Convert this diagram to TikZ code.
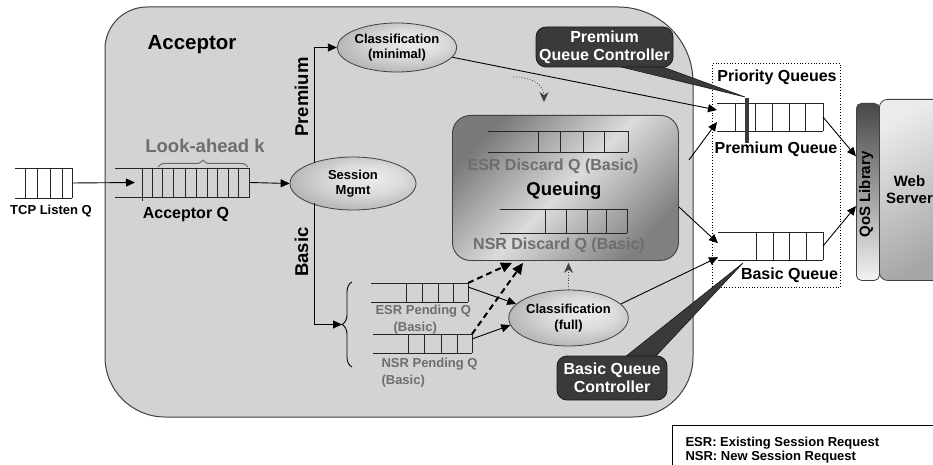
\documentclass[tikz,border=0pt]{standalone}
\usepackage{fontspec}
\setmainfont{Liberation Sans}
\usetikzlibrary{arrows.meta,shapes.geometric,decorations.pathreplacing,calc}

\definecolor{panel}{HTML}{D3D3D3}
\definecolor{edge}{HTML}{404040}
\definecolor{greytext}{HTML}{6E6E6E}
\definecolor{ctrl}{HTML}{3A3A3A}

% light spot slightly up and right, darker rim
\pgfdeclareradialshading{ovalshade}{\pgfpoint{8bp}{6bp}}{color(0bp)=(white!93!black); color(14bp)=(white!86!black); color(50bp)=(black!50)}

% a queue: open on the left, closed on the right, with slot dividers
% #1 name, #2 left x, #3 right x, #4 top y, #5 bottom y, #6 divider x list
\newcommand\drawqueue[6]{%
  \node[qnode, minimum width={#3-#2}, minimum height={#5-#4}, anchor=north west] (#1) at (#2,#4) {};
  \draw[qline] (#2,#4) -- (#3,#4) (#2,#5) -- (#3,#5);
  \foreach \vx in {#6} {\draw[qline] (\vx,#4) -- (\vx,#5);}
}

\begin{document}
\begin{tikzpicture}[x=1pt,y=-1pt,
  t13/.style={font=\fontsize{13}{15.5}\selectfont\bfseries},
  t15/.style={font=\fontsize{15}{17}\selectfont\bfseries},
  t16/.style={font=\fontsize{16}{18}\selectfont\bfseries},
  t18/.style={font=\fontsize{18.5}{21}\selectfont\bfseries},
  t20/.style={font=\fontsize{20.5}{24}\selectfont\bfseries},
  arr/.style={-{Triangle[length=9pt,width=8pt]}, line width=0.9pt, black},
  dasharr/.style={-{Triangle[length=11pt,width=10pt]}, line width=2pt, dash pattern=on 6pt off 4pt},
  dotarr/.style={-{Stealth[length=10pt,width=9pt]}, line width=0.8pt, dotted, draw=black!75},
  qline/.style={line width=0.9pt, draw=black!85},
  qnode/.style={inner sep=0pt, outer sep=0pt, draw=none},
  oval/.style={ellipse, draw=edge, line width=0.8pt, inner sep=0pt, shading=ovalshade, align=center, t13},
  callout/.style={rectangle, rounded corners=10pt, fill=ctrl, draw=black!90, line width=0.8pt, text=white, t16, align=center, inner sep=0pt},
  wedge/.style={fill=ctrl, draw=black!90, line width=0.6pt},
]
\useasboundingbox (0,0) rectangle (933,465);
\fill[white] (0,0) rectangle (933,465);

% acceptor panel
\path[draw=edge, fill=panel, line width=1pt]
  (147,7) -- (618,7) arc[start angle=270, end angle=360, radius=75]
  -- (693,357) arc[start angle=0, end angle=90, radius=60]
  -- (165,417) arc[start angle=90, end angle=180, radius=60]
  -- (105,49) arc[start angle=180, end angle=270, radius=42] -- cycle;
\node[t20, anchor=base] (acctitle) at (192,49.5) {Acceptor};

% priority queues frame
\node[draw, dotted, line width=0.8pt, minimum width=128, minimum height=224, anchor=north west, inner sep=0pt] (prio) at (712,63) {};
\node[t16, anchor=base] (priolbl) at (777,81.5) {Priority Queues};

% legend
\node[draw=black, line width=1pt, minimum width=270, minimum height=60, anchor=north west, inner sep=0pt] (legend) at (672,425) {};
\node[t13, anchor=base west] (leg1) at (682,446) {ESR: Existing Session Request};
\node[t13, anchor=base west] (leg2) at (682,460) {NSR: New Session Request};

% incoming queues
\drawqueue{tcpq}{15}{72}{168}{198}{25,37,50,62,72}
\node[t13, anchor=base] (tcplbl) at (51,214) {TCP Listen Q};
\drawqueue{accq}{115}{250}{168}{197}{142,152,162,173,185,196,207,217,228,238,249}
\draw[qline] (142,197) -- (142,201);
\node[t16, anchor=base] (acclbl) at (186,218.5) {Acceptor Q};
\draw[decorate, decoration={brace, amplitude=7pt}, line width=1pt, draw=black!60] (158,167) -- (248,167);
\node[t18, anchor=base, text=greytext] (lookahead) at (205,153) {Look-ahead k};

% session management and classification
\node[oval, minimum width=126, minimum height=53] (sess) at (353,183.5) {Session\\Mgmt};
\node[oval, minimum width=108, minimum height=49] (cmin) at (397,47.5) {Classification\\(minimal)};
\node[oval, minimum width=109, minimum height=56] (cfull) at (568.5,318) {Classification\\(full)};
\node[t18, rotate=90, anchor=base] (premlbl) at (308,97) {Premium};
\node[t18, rotate=90, anchor=base] (basiclbl) at (308,252) {Basic};

% pending queues
\drawqueue{esrp}{371}{468}{283}{302}{406,422,438,453,468}
\node[t13, anchor=base west, text=greytext] (esrplbl) at (372,314.3) {ESR Pending Q};
\node[t13, anchor=base west, text=greytext] (esrplbl2) at (390,331) {(Basic)};
\drawqueue{nsrp}{373}{472}{334}{353}{408,424,441,457,472}
\node[t13, anchor=base west, text=greytext] (nsrplbl) at (378,367.6) {NSR Pending Q};
\node[t13, anchor=base west, text=greytext] (nsrplbl2) at (378,384.5) {(Basic)};
\draw[decorate, decoration={brace, amplitude=10pt}, line width=0.9pt] (352,367) -- (352,282);
\coordinate (btip) at (342,324.5);

% queuing block with discard queues
\node[rectangle, rounded corners=18pt, draw=edge, line width=0.9pt, minimum width=226, minimum height=145, anchor=north west, inner sep=0pt,
  top color=black!52, bottom color=black!50, middle color=white!86!black, shading angle=45] (queuing) at (452,115) {};
\drawqueue{esrd}{488}{628}{131}{152}{538,560,583,604,628}
\node[t16, anchor=base, text=greytext] (esrdlbl) at (553,170.5) {ESR Discard Q (Basic)};
\node[t18, anchor=base] (queuinglbl) at (564,195) {Queuing};
\drawqueue{nsrd}{500}{627}{209}{233}{545,566,587,606,627}
\node[t16, anchor=base, text=greytext] (nsrdlbl) at (559,249.5) {NSR Discard Q (Basic)};

% priority queues
\drawqueue{premq}{717}{823}{103}{131}{735,755,772,789,805,823}
\node[t16, anchor=base] (premqlbl) at (776,153.5) {Premium Queue};
\drawqueue{basq}{718}{823}{232}{260}{756,773,789,806,823}
\node[t16, anchor=base] (basqlbl) at (789.5,279.5) {Basic Queue};

% QoS library and web server
\node[rectangle, rounded corners=8pt, draw=edge, line width=0.8pt, minimum width=70, minimum height=181, anchor=north west, inner sep=0pt,
  top color=white!92!black, bottom color=black!35, shading angle=30] (web) at (879,99) {};
\node[t15, align=center] (weblbl) at (909.5,189.5) {Web\\Server};
\node[rectangle, rounded corners=5pt, draw=edge, line width=0.8pt, minimum width=23, minimum height=177, anchor=north west, inner sep=0pt,
  top color=black!72, bottom color=white!95!black] (qos) at (856,103) {};
\node[t15, rotate=90, anchor=base] (qoslbl) at (870,194.5) {QoS Library};

% controllers
\fill[wedge] (617,66) -- (660,66) -- (745,97) -- cycle;
\draw[line width=4pt, draw=ctrl] (747,98) -- (747,143);
\node[callout, minimum width=137, minimum height=40] (pqc) at (604.5,47) {Premium\\Queue Controller};
\fill[wedge] (625,357) -- (655,357) -- (743,263) -- cycle;
\node[callout, minimum width=110, minimum height=44] (bqc) at (612,378) {Basic Queue\\Controller};

% request flow
\coordinate (premfork) at (314,162.6);
\coordinate (basicfork) at (314,203.4);
\draw[arr] (tcpq.east) -- ($(accq.west)+(20,0)$);
\draw[arr] (accq.east) -- (sess.west);
\draw[arr] (premfork) |- (cmin.west);
\draw[arr] (basicfork) |- (btip);

\coordinate (dotstart) at (513,77);
\coordinate (dotend) at (544,102);
\draw[dotarr] (dotstart) .. controls (534,77) and (544,86) .. (dotend);
\draw[dotarr] (cfull.north) -- ($(cfull.north |- queuing.south)+(0,2)$);

\draw[dasharr] (esrp.north east) -- ($(queuing.south west)+(60,2)$);
\draw[dasharr] (nsrp.north east) -- ($(queuing.south west)+(71,2)$);
\draw[arr] ($(esrp.north east)+(0,4)$) -- (cfull.165);
\draw[arr] ($(nsrp.north east)+(0,5)$) -- (cfull.187);

\draw[arr] (cmin.-10) -- ($(premq.north west)!0.25!(premq.south west)$);
\draw[arr] ($(queuing.north east)+(10,45)$) -- ($(premq.north west)!0.68!(premq.south west)$);
\draw[arr] ($(queuing.north east)!0.63!(queuing.south east)$) -- ($(basq.north west)!0.4!(basq.south west)$);
\draw[arr] (cfull.15) -- ($(basq.north west)!0.9!(basq.south west)$);
\draw[arr] (premq.east) -- ($(qos.north west)!0.3!(qos.south west)$);
\draw[arr] (basq.east) -- ($(qos.north west)!0.58!(qos.south west)$);
\end{tikzpicture}
\end{document}
